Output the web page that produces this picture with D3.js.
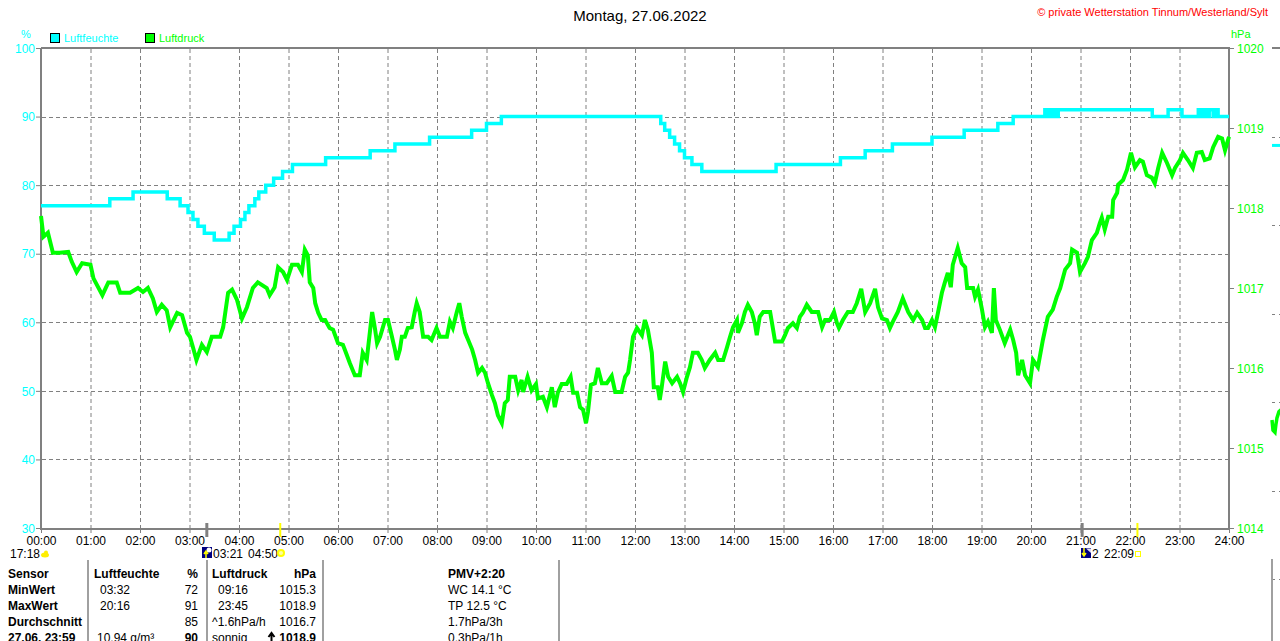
<!DOCTYPE html>
<html>
<head>
<meta charset="utf-8">
<script src="https://cdn.jsdelivr.net/npm/d3@7"></script>
<style>
body { margin: 0; background: #fff; overflow: hidden; }
svg { display: block; font-family: "Liberation Sans", Arial, sans-serif; }
</style>
</head>
<body>
<svg id="chart"></svg>
<script>
// Luftfeuchte (%) als Stufen: [Stunde, Wert]
var feuchte = [
    [0, 77], [1.39, 78], [1.86, 79], [2.55, 78], [2.81, 77], [2.97, 76], [3.07, 75], [3.17, 74],
    [3.30, 73], [3.50, 72], [3.80, 73], [3.90, 74], [4.03, 75], [4.12, 76], [4.20, 77], [4.32, 78],
    [4.40, 79], [4.54, 80], [4.70, 81], [4.88, 82], [5.08, 83], [5.75, 84], [6.65, 85], [7.15, 86],
    [7.85, 87], [8.70, 88], [9.00, 89], [9.30, 90], [12.52, 89], [12.60, 88], [12.70, 87], [12.80, 86],
    [12.90, 85], [13.00, 84], [13.15, 83], [13.35, 82], [14.85, 83], [16.15, 84], [16.65, 85], [17.20, 86],
    [18.00, 87], [18.65, 88], [19.33, 89], [19.64, 90], [20.28, 91], [20.32, 90], [20.36, 91], [20.41, 90],
    [20.46, 91], [20.50, 90], [20.55, 91], [22.45, 90], [22.77, 91], [23.05, 90], [23.38, 91], [23.43, 90],
    [23.50, 91], [23.55, 90], [23.60, 91], [23.68, 90], [23.72, 91], [23.78, 90], [24, 90]
]
// Luftdruck (hPa): [Stunde, Wert]
var druck = [
    [0.00, 1017.90], [0.05, 1017.64], [0.14, 1017.69], [0.24, 1017.44], [0.38, 1017.44], [0.55, 1017.45],
    [0.62, 1017.33], [0.72, 1017.20], [0.83, 1017.31], [1.00, 1017.29], [1.06, 1017.12], [1.24, 1016.91],
    [1.36, 1017.07], [1.53, 1017.07], [1.60, 1016.94], [1.80, 1016.94], [1.96, 1017.00], [2.06, 1016.95],
    [2.16, 1017.00], [2.26, 1016.87], [2.34, 1016.70], [2.44, 1016.79], [2.54, 1016.72], [2.61, 1016.51],
    [2.75, 1016.69], [2.85, 1016.66], [2.95, 1016.44], [3.01, 1016.39], [3.07, 1016.26], [3.14, 1016.10],
    [3.25, 1016.29], [3.35, 1016.20], [3.45, 1016.39], [3.62, 1016.39], [3.68, 1016.51], [3.78, 1016.94],
    [3.86, 1016.98], [3.96, 1016.85], [4.06, 1016.62], [4.16, 1016.76], [4.28, 1017.00], [4.38, 1017.07],
    [4.56, 1017.00], [4.62, 1016.91], [4.72, 1017.01], [4.79, 1017.26], [4.89, 1017.20], [4.97, 1017.10],
    [5.07, 1017.29], [5.19, 1017.29], [5.27, 1017.20], [5.33, 1017.48], [5.39, 1017.41], [5.43, 1017.07],
    [5.50, 1017.00], [5.54, 1016.81], [5.60, 1016.69], [5.67, 1016.60], [5.74, 1016.60], [5.83, 1016.50],
    [5.90, 1016.48], [6.00, 1016.31], [6.10, 1016.29], [6.18, 1016.16], [6.24, 1016.06], [6.34, 1015.91],
    [6.44, 1015.91], [6.50, 1016.19], [6.58, 1016.10], [6.65, 1016.48], [6.69, 1016.70], [6.75, 1016.48],
    [6.79, 1016.31], [6.85, 1016.39], [6.95, 1016.60], [7.01, 1016.60], [7.09, 1016.39], [7.15, 1016.23],
    [7.19, 1016.10], [7.25, 1016.23], [7.29, 1016.39], [7.35, 1016.39], [7.41, 1016.50], [7.49, 1016.51],
    [7.55, 1016.70], [7.59, 1016.81], [7.65, 1016.70], [7.72, 1016.39], [7.82, 1016.39], [7.89, 1016.35],
    [7.99, 1016.50], [8.06, 1016.39], [8.20, 1016.39], [8.26, 1016.58], [8.32, 1016.50], [8.40, 1016.70],
    [8.45, 1016.81], [8.50, 1016.64], [8.57, 1016.44], [8.63, 1016.35], [8.71, 1016.23], [8.77, 1016.10],
    [8.83, 1015.94], [8.91, 1016.00], [8.97, 1015.94], [9.03, 1015.81], [9.11, 1015.66], [9.17, 1015.56],
    [9.23, 1015.41], [9.31, 1015.31], [9.37, 1015.56], [9.43, 1015.60], [9.47, 1015.89], [9.58, 1015.89],
    [9.64, 1015.72], [9.71, 1015.85], [9.74, 1015.70], [9.83, 1015.89], [9.91, 1015.72], [10.00, 1015.80],
    [10.04, 1015.62], [10.14, 1015.64], [10.22, 1015.51], [10.32, 1015.76], [10.38, 1015.51], [10.44, 1015.69],
    [10.52, 1015.80], [10.62, 1015.80], [10.70, 1015.89], [10.75, 1015.69], [10.83, 1015.69], [10.89, 1015.51],
    [10.95, 1015.48], [11.01, 1015.31], [11.05, 1015.45], [11.11, 1015.79], [11.19, 1015.81], [11.25, 1016.00],
    [11.33, 1015.81], [11.43, 1015.81], [11.53, 1015.90], [11.60, 1015.70], [11.73, 1015.70], [11.80, 1015.89],
    [11.86, 1015.94], [11.90, 1016.10], [11.96, 1016.39], [12.04, 1016.50], [12.14, 1016.41], [12.20, 1016.60],
    [12.26, 1016.48], [12.34, 1016.19], [12.38, 1015.76], [12.46, 1015.76], [12.50, 1015.60], [12.54, 1015.76],
    [12.61, 1016.08], [12.67, 1015.89], [12.75, 1015.81], [12.85, 1015.89], [12.91, 1015.81], [12.97, 1015.70],
    [13.05, 1015.89], [13.11, 1016.01], [13.17, 1016.19], [13.27, 1016.19], [13.35, 1016.10], [13.41, 1016.00],
    [13.51, 1016.10], [13.62, 1016.19], [13.68, 1016.10], [13.78, 1016.10], [13.86, 1016.26], [13.92, 1016.39],
    [13.98, 1016.51], [14.06, 1016.60], [14.08, 1016.44], [14.16, 1016.56], [14.22, 1016.70], [14.28, 1016.79],
    [14.36, 1016.70], [14.42, 1016.56], [14.46, 1016.41], [14.52, 1016.64], [14.59, 1016.70], [14.73, 1016.70],
    [14.79, 1016.48], [14.83, 1016.33], [14.97, 1016.33], [15.03, 1016.41], [15.09, 1016.50], [15.19, 1016.56],
    [15.27, 1016.50], [15.33, 1016.64], [15.39, 1016.69], [15.47, 1016.79], [15.57, 1016.70], [15.70, 1016.70],
    [15.78, 1016.51], [15.84, 1016.60], [15.94, 1016.60], [16.02, 1016.70], [16.08, 1016.56], [16.12, 1016.50],
    [16.20, 1016.60], [16.30, 1016.70], [16.40, 1016.70], [16.48, 1016.81], [16.57, 1016.99], [16.65, 1016.70],
    [16.75, 1016.81], [16.85, 1016.99], [16.91, 1016.76], [16.99, 1016.62], [17.09, 1016.60], [17.15, 1016.50],
    [17.21, 1016.58], [17.31, 1016.70], [17.41, 1016.87], [17.52, 1016.70], [17.62, 1016.60], [17.70, 1016.69],
    [17.80, 1016.60], [17.86, 1016.50], [17.92, 1016.50], [18.00, 1016.60], [18.06, 1016.51], [18.12, 1016.69],
    [18.20, 1016.94], [18.26, 1017.07], [18.32, 1017.19], [18.38, 1017.01], [18.42, 1017.29], [18.52, 1017.50],
    [18.60, 1017.31], [18.67, 1017.26], [18.71, 1017.00], [18.83, 1017.00], [18.87, 1016.89], [18.93, 1016.98],
    [19.01, 1016.73], [19.07, 1016.51], [19.13, 1016.58], [19.21, 1016.44], [19.25, 1017.00], [19.29, 1016.60],
    [19.37, 1016.48], [19.47, 1016.31], [19.58, 1016.48], [19.64, 1016.35], [19.70, 1016.19], [19.74, 1015.91],
    [19.82, 1016.10], [19.88, 1015.91], [19.98, 1015.81], [20.04, 1016.10], [20.14, 1016.01], [20.24, 1016.35],
    [20.34, 1016.64], [20.44, 1016.73], [20.52, 1016.89], [20.59, 1017.00], [20.69, 1017.23], [20.79, 1017.31],
    [20.83, 1017.48], [20.93, 1017.44], [20.99, 1017.20], [21.09, 1017.31], [21.15, 1017.39], [21.23, 1017.60],
    [21.33, 1017.69], [21.39, 1017.81], [21.43, 1017.88], [21.49, 1017.73], [21.56, 1017.89], [21.64, 1017.89],
    [21.66, 1018.10], [21.74, 1018.19], [21.76, 1018.29], [21.86, 1018.35], [21.94, 1018.48], [22.02, 1018.69],
    [22.10, 1018.51], [22.20, 1018.60], [22.26, 1018.58], [22.34, 1018.41], [22.44, 1018.38], [22.50, 1018.31],
    [22.57, 1018.50], [22.65, 1018.69], [22.75, 1018.56], [22.85, 1018.41], [22.91, 1018.50], [23.01, 1018.60],
    [23.07, 1018.69], [23.17, 1018.60], [23.27, 1018.50], [23.35, 1018.69], [23.45, 1018.70], [23.51, 1018.60],
    [23.61, 1018.62], [23.68, 1018.76], [23.78, 1018.89], [23.86, 1018.87], [23.92, 1018.72], [24.00, 1018.89]
]
// Anfang des naechsten Tages (rechts abgeschnitten)
var feuchteNext = [[0, 89], [0.2, 89]]
var druckNext = [[0, 1016.40], [0.02, 1016.30], [0.06, 1016.28], [0.08, 1016.36], [0.10, 1016.42], [0.14, 1016.48], [0.18, 1016.50]]

var stunden = d3.range(0, 25)
var feuchteTicks = [30, 40, 50, 60, 70, 80, 90, 100]
var druckTicks = [1014, 1015, 1016, 1017, 1018, 1019, 1020]

var titel = "Montag, 27.06.2022"
var copyright = "\u00a9 private Wetterstation Tinnum/Westerland/Sylt"

// Tabelle unten
var tabLabels = ["Sensor", "MinWert", "MaxWert", "Durchschnitt", "27.06. 23:59"]
var tabFeuchteZeit = ["", "03:32", "20:16", "", "10.94 g/m\u00b3"]
var tabFeuchteWert = ["%", "72", "91", "85", "90"]
var tabDruckZeit = ["", "09:16", "23:45", "^1.6hPa/h", "sonnig"]
var tabDruckWert = ["hPa", "1015.3", "1018.9", "1016.7", "1018.9"]
var tabPmv = ["PMV+2:20", "WC 14.1 \u00b0C", "TP 12.5 \u00b0C", "1.7hPa/3h", "0.3hPa/1h"]

var width = 1280,
    height = 641
var cyan = "#00ffff",
    green = "#00ff00",
    gray = "#808080"

var svg = d3.select("#chart").attr("width", width).attr("height", height)

var x = d3.scaleLinear().domain([0, 24]).range([41, 1229])
var yF = d3.scaleLinear().domain([30, 100]).range([528, 48])
var yD = d3.scaleLinear().domain([1014, 1020]).range([528, 48])

// Gitter
var grid = svg.append("g")
grid.selectAll("line.v")
    .data(stunden.slice(1, 24))
    .enter().append("line")
    .attr("x1", function (d) { return x(d) + 0.5 })
    .attr("x2", function (d) { return x(d) + 0.5 })
    .attr("y1", 49).attr("y2", 528)
    .attr("stroke", gray).attr("stroke-dasharray", "4,3")
grid.selectAll("line.h")
    .data(feuchteTicks.slice(1, 7))
    .enter().append("line")
    .attr("x1", 42).attr("x2", 1228)
    .attr("y1", function (d) { return Math.round(yF(d)) + 0.5 })
    .attr("y2", function (d) { return Math.round(yF(d)) + 0.5 })
    .attr("stroke", gray).attr("stroke-dasharray", "4,3")

// Achsen
var axX = svg.append("g").attr("transform", "translate(0,528)")
    .call(d3.axisBottom(x).tickValues(stunden).tickSize(5).tickPadding(3)
        .tickFormat(function (d) { return d3.format("02d")(d) + ":00" }))
var axL = svg.append("g").attr("transform", "translate(41,0)")
    .call(d3.axisLeft(yF).tickValues(feuchteTicks).tickSize(5).tickPadding(1))
var axR = svg.append("g").attr("transform", "translate(1229,0)")
    .call(d3.axisRight(yD).tickValues(druckTicks).tickSize(5).tickPadding(3).tickFormat(d3.format("d")))
;[axX, axL, axR].forEach(function (a) {
    a.select(".domain").remove()
    a.selectAll("line").attr("stroke", gray)
    a.selectAll("text").attr("font-size", 12).attr("font-family", "Liberation Sans, Arial, sans-serif")
})
axX.selectAll("text").attr("fill", "#000")
axL.selectAll("text").attr("fill", cyan).attr("dy", "0.35em")
axR.selectAll("text").attr("fill", green).attr("dy", "0.35em")

// Rahmen
svg.append("path")
    .attr("d", "M41,48H1229V529M41,48V529H1229")
    .attr("fill", "none").attr("stroke", gray).attr("stroke-width", 2)

// Sonne / Mond Markierungen an der Zeitachse
var marks = svg.append("g")
marks.append("line").attr("x1", x(3 + 21 / 60)).attr("x2", x(3 + 21 / 60)).attr("y1", 523).attr("y2", 537)
    .attr("stroke", gray).attr("stroke-width", 3)
marks.append("line").attr("x1", x(21 + 2 / 60)).attr("x2", x(21 + 2 / 60)).attr("y1", 523).attr("y2", 537)
    .attr("stroke", gray).attr("stroke-width", 3)
marks.append("line").attr("x1", x(4 + 50 / 60)).attr("x2", x(4 + 50 / 60)).attr("y1", 523).attr("y2", 537)
    .attr("stroke", "#ffff00").attr("stroke-width", 2)
marks.append("line").attr("x1", x(22 + 9 / 60)).attr("x2", x(22 + 9 / 60)).attr("y1", 523).attr("y2", 537)
    .attr("stroke", "#ffff00").attr("stroke-width", 2)

// Kurven
svg.append("path").datum(feuchte)
    .attr("d", d3.line().x(function (d) { return x(d[0]) }).y(function (d) { return yF(d[1]) }).curve(d3.curveStepAfter))
    .attr("fill", "none").attr("stroke", cyan).attr("stroke-width", 3.5)
svg.append("path").datum(druck)
    .attr("d", d3.line().x(function (d) { return x(d[0]) }).y(function (d) { return yD(d[1]) }))
    .attr("fill", "none").attr("stroke", green).attr("stroke-width", 4)

// Texte oben
svg.append("text").attr("x", 640).attr("y", 21).attr("text-anchor", "middle")
    .attr("font-size", 15).text(titel)
svg.append("text").attr("x", 1268).attr("y", 16).attr("text-anchor", "end")
    .attr("font-size", 11).attr("fill", "#ff0000").text(copyright)
svg.append("text").attr("x", 26).attr("y", 38).attr("text-anchor", "middle")
    .attr("font-size", 11).attr("fill", cyan).text("%")
svg.append("text").attr("x", 1231).attr("y", 38)
    .attr("font-size", 11).attr("fill", green).text("hPa")

// Legende
var legende = [["Luftfeuchte", cyan, 50], ["Luftdruck", green, 145]]
var lg = svg.selectAll("g.leg").data(legende).enter().append("g")
lg.append("rect").attr("x", function (d) { return d[2] + 0.5 }).attr("y", 33.5).attr("width", 9).attr("height", 9)
    .attr("fill", function (d) { return d[1] }).attr("stroke", "#000")
lg.append("text").attr("x", function (d) { return d[2] + 14 }).attr("y", 42)
    .attr("font-size", 11).attr("fill", function (d) { return d[1] }).text(function (d) { return d[0] })

// Zeiten unter der Achse
var info = svg.append("g").attr("font-size", 12)
info.append("text").attr("x", 10).attr("y", 558).text("17:18")
info.append("ellipse").attr("cx", 45).attr("cy", 555).attr("rx", 4).attr("ry", 2.5).attr("fill", "#ffee00")
info.append("circle").attr("cx", 46).attr("cy", 552.5).attr("r", 2).attr("fill", "#ffee00")
// Mond auf
info.append("rect").attr("x", 202).attr("y", 547).attr("width", 10).attr("height", 11).attr("fill", "#000080")
info.append("circle").attr("cx", 209).attr("cy", 550).attr("r", 2.5).attr("fill", "#fff")
info.append("path").attr("d", "M206,558V552M204,554L206,551L208,554").attr("stroke", "#ffff00").attr("stroke-width", 1.5).attr("fill", "none")
info.append("text").attr("x", 213).attr("y", 558).text("03:21")
info.append("text").attr("x", 248).attr("y", 558).text("04:50")
info.append("circle").attr("cx", 281).attr("cy", 553).attr("r", 4).attr("fill", "#ffff00")
info.append("circle").attr("cx", 281).attr("cy", 553).attr("r", 2).attr("fill", "#ffffa0")
// Mond unter
info.append("rect").attr("x", 1081).attr("y", 548).attr("width", 10).attr("height", 10).attr("fill", "#000080")
info.append("path").attr("d", "M1086,548.5H1091V553Z").attr("fill", "#dde")
info.append("path").attr("d", "M1084,548V555M1082,553L1084,556L1086,553").attr("stroke", "#ffff00").attr("stroke-width", 1.5).attr("fill", "none")
info.append("text").attr("x", 1092).attr("y", 558).text("2")
info.append("text").attr("x", 1104).attr("y", 558).text("22:09")
info.append("rect").attr("x", 1135.5).attr("y", 551.5).attr("width", 5).attr("height", 5).attr("fill", "none").attr("stroke", "#ffff00")

// Tabelle
var tab = svg.append("g").attr("font-size", 12)
var tabLinien = [88, 207, 323, 559]
tab.selectAll("line").data(tabLinien).enter().append("line")
    .attr("x1", function (d) { return d }).attr("x2", function (d) { return d })
    .attr("y1", 560).attr("y2", 641).attr("stroke", "#a0a0a0").attr("stroke-width", 2)
var rowY = function (i) { return 578 + i * 16 }
function spalte(arr, xpos, anchor, bold) {
    tab.selectAll(null).data(arr).enter().append("text")
        .attr("x", xpos).attr("y", function (d, i) { return rowY(i) })
        .attr("text-anchor", anchor)
        .attr("font-weight", function (d, i) { return bold(i) ? "bold" : "normal" })
        .text(function (d) { return d })
}
spalte(tabLabels, 8, "start", function () { return true })
spalte(["Luftfeuchte"], 94, "start", function () { return true })
spalte(tabFeuchteZeit, 100, "start", function () { return false })
tab.selectAll("text").filter(function (d) { return d == "10.94 g/m\u00b3" }).attr("x", 97)
spalte(tabFeuchteWert, 198, "end", function (i) { return i == 0 || i == 4 })
spalte(["Luftdruck"], 212, "start", function () { return true })
spalte(tabDruckZeit, 218, "start", function () { return false })
tab.selectAll("text").filter(function (d) { return d == "^1.6hPa/h" || d == "sonnig" }).attr("x", 212)
spalte(tabDruckWert, 316, "end", function (i) { return i == 0 || i == 4 })
spalte(tabPmv, 448, "start", function (i) { return i == 0 })
// Pfeil vor dem aktuellen Luftdruck
tab.append("path").attr("d", "M271.5,643V634M268.5,637L271.5,633L274.5,637")
    .attr("stroke", "#000").attr("stroke-width", 2).attr("fill", "none")

// Naechstes Diagramm (rechts angeschnitten)
var xN = d3.scaleLinear().domain([0, 1]).range([1272, 1321.5])
var yNF = d3.scaleLinear().domain([30, 100]).range([668, 48])
var yND = d3.scaleLinear().domain([1014, 1020]).range([668, 48])
var nx = svg.append("g")
nx.append("line").attr("x1", 1272).attr("x2", 1280).attr("y1", 48).attr("y2", 48).attr("stroke", gray).attr("stroke-width", 2)
nx.selectAll("line.g").data(feuchteTicks.slice(1, 7)).enter().append("line")
    .attr("x1", 1272).attr("x2", 1280)
    .attr("y1", function (d) { return Math.round(yNF(d)) + 0.5 })
    .attr("y2", function (d) { return Math.round(yNF(d)) + 0.5 })
    .attr("stroke", gray).attr("stroke-dasharray", "3,4")
nx.append("line").attr("x1", 1272).attr("x2", 1272).attr("y1", 559).attr("y2", 641).attr("stroke", "#a0a0a0").attr("stroke-width", 2)
nx.append("path").datum(feuchteNext)
    .attr("d", d3.line().x(function (d) { return xN(d[0]) }).y(function (d) { return yNF(d[1]) }))
    .attr("fill", "none").attr("stroke", cyan).attr("stroke-width", 3)
nx.append("path").datum(druckNext)
    .attr("d", d3.line().x(function (d) { return xN(d[0]) }).y(function (d) { return yND(d[1]) }))
    .attr("fill", "none").attr("stroke", green).attr("stroke-width", 3.5)
</script>
</body>
</html>
